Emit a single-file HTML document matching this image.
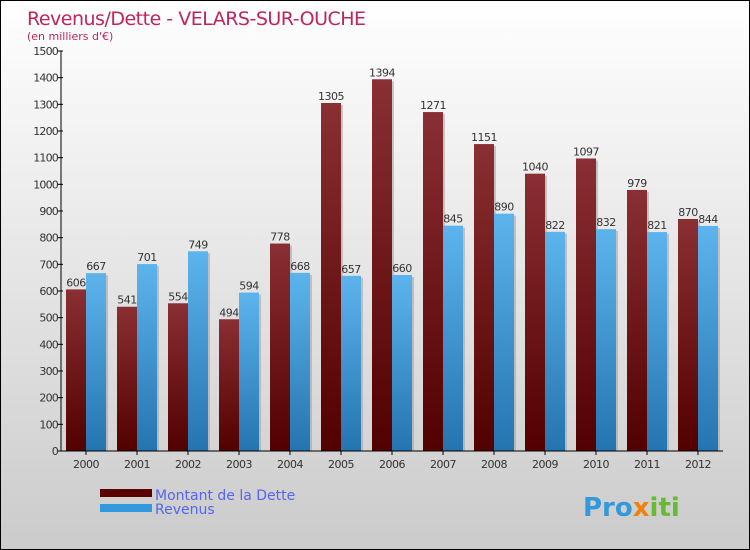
<!DOCTYPE html>
<html><head><meta charset="utf-8"><style>
body{margin:0;}
#wrap{position:relative;width:748px;height:548px;border:1px solid #000;background:linear-gradient(#ffffff,#cbcbcb);font-family:"DejaVu Sans","Liberation Sans",sans-serif;overflow:hidden}
svg text{font-family:"DejaVu Sans","Liberation Sans",sans-serif}
</style></head><body>
<div id="wrap">
<svg id="chart" width="748" height="548">
<defs>
<linearGradient id="gd" x1="0" y1="0" x2="0" y2="1"><stop offset="0" stop-color="#8a2f33"/><stop offset="1" stop-color="#520000"/></linearGradient>
<linearGradient id="gr" x1="0" y1="0" x2="0" y2="1"><stop offset="0" stop-color="#5db4ec"/><stop offset="1" stop-color="#2474b0"/></linearGradient>
</defs>
<text x="26" y="24" font-size="19" fill="#c0245c" letter-spacing="-0.5">Revenus/Dette - VELARS-SUR-OUCHE</text>
<text x="26" y="39" font-size="11" fill="#c0245c">(en milliers d'€)</text>
<g id="grid"></g>
<g id="bars"></g>
<g id="axes"></g>
<rect x="99" y="488" width="52" height="8" fill="#5a0000"/>
<rect x="99" y="503" width="52" height="8" fill="#3399dd"/>
<text x="154" y="499" font-size="14" fill="#5566ee">Montant de la Dette</text>
<text x="154" y="513" font-size="14" fill="#5566ee">Revenus</text>
<text x="582" y="515" font-size="26" font-weight="bold" fill="#3399dd">Pro<tspan fill="#f08010">x</tspan><tspan fill="#66bb33">iti</tspan></text>
</svg>
</div>
<script>
const categories=["2000","2001","2002","2003","2004","2005","2006","2007","2008","2009","2010","2011","2012"];
const dette=[606,541,554,494,778,1305,1394,1271,1151,1040,1097,979,870];
const revenus=[667,701,749,594,668,657,660,845,890,822,832,821,844];
const yTicks=[0,100,200,300,400,500,600,700,800,900,1000,1100,1200,1300,1400,1500];
const NS="http://www.w3.org/2000/svg";
const y0=450,yMax=1500,pxH=400,x0=60,step=51,bw=20;
function y(v){return y0-v/yMax*pxH;}
function xc(i){return x0+25+i*step;}
function mk(tag,attrs,parent){const e=document.createElementNS(NS,tag);for(const k in attrs)e.setAttribute(k,attrs[k]);parent.appendChild(e);return e;}
const bars=document.getElementById('bars'),axes=document.getElementById('axes');
categories.forEach((c,i)=>{
  const cx=xc(i);
  [[dette[i],cx-bw,'url(#gd)','dette'],[revenus[i],cx,'url(#gr)','revenus']].forEach(([v,x,f,n])=>{
    const sh=mk('rect',{x:x+bw,y:y(v)+2,width:2,height:y0-y(v)-2,fill:'#999','opacity':0.5},bars);
    
    
    const r=mk('rect',{x:x,y:y(v),width:bw,height:y0-y(v),fill:f},bars);
    
    
    const t=mk('text',{x:x+bw/2,y:y(v)-3,'font-size':11,'text-anchor':'middle',fill:'#333','letter-spacing':'-0.5'},bars);
    t.textContent=v;
    
    
  });
  const tk=mk('line',{x1:cx,x2:cx,y1:y0,y2:y0+4,stroke:'#000'},axes);
  
  
  const lb=mk('text',{x:cx,y:y0+17,'font-size':11,'text-anchor':'middle',fill:'#333','letter-spacing':'-0.5'},axes);
  lb.textContent=c;
  
  
});
yTicks.forEach(v=>{
  const tk=mk('line',{x1:x0-4,x2:x0+2,y1:y(v),y2:y(v),stroke:'#000'},axes);
  
  
  const lb=mk('text',{x:x0-3,y:y(v)+4,'font-size':11,'text-anchor':'end',fill:'#333','letter-spacing':'-0.8'},axes);
  lb.textContent=v;
  
  
});
const ya=mk('line',{x1:x0,x2:x0,y1:y(yMax),y2:y0,stroke:'#000'},axes);


const xa=mk('line',{x1:x0,x2:722,y1:y0,y2:y0,stroke:'#000'},axes);


</script>
</body></html>
